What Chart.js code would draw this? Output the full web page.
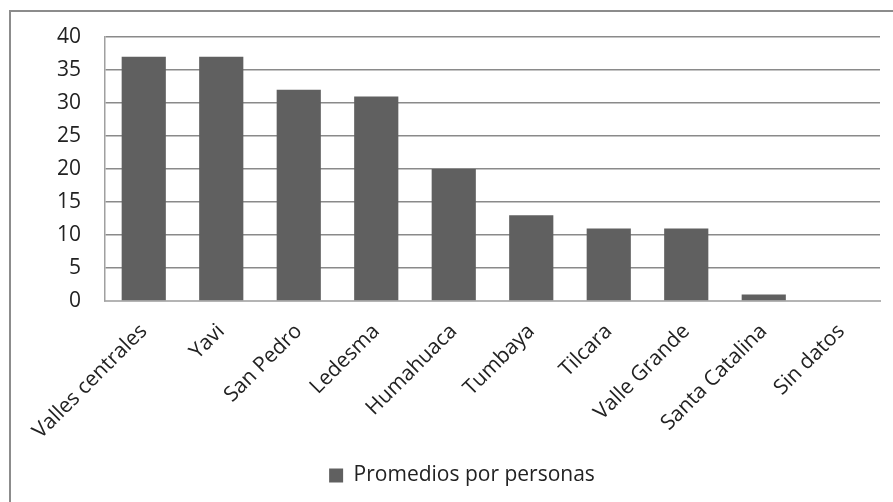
<!DOCTYPE html>
<html>
<head>
<meta charset="utf-8">
<script src="https://cdn.jsdelivr.net/npm/chart.js@4/dist/chart.umd.min.js"></script>
<style>
  html, body { margin: 0; padding: 0; background: #fff; }
  #wrap { position: relative; width: 893px; height: 502px; overflow: hidden; }
  #frame { position: absolute; left: 9px; top: 10px; width: 900px; height: 520px; border: 2px solid #8c8c8c; box-sizing: border-box; }
  canvas { position: absolute; left: 0; top: 0; }
</style>
</head>
<body>
<div id="wrap">
  <div id="frame"></div>
  <canvas id="c" width="893" height="502"></canvas>
</div>
<script>
const categories = ["Valles centrales", "Yavi", "San Pedro", "Ledesma", "Humahuaca", "Tumbaya", "Tilcara", "Valle Grande", "Santa Catalina", "Sin datos"];
const seriesName = "Promedios por personas";
const values = [37, 37, 32, 31, 20, 13, 11, 11, 1, 0];
const yTicks = [0, 5, 10, 15, 20, 25, 30, 35, 40];

const FONT = "'Open Sans', sans-serif";

new Chart(document.getElementById('c'), {
  type: 'bar',
  data: {
    labels: categories,
    datasets: [{
      label: seriesName,
      data: values,
      backgroundColor: '#606060',
      borderWidth: 0,
      barPercentage: 0.57,
      categoryPercentage: 1.0
    }]
  },
  options: {
    responsive: false,
    animation: false,
    devicePixelRatio: 1,
    layout: { padding: { left: 44, right: 13, top: 37, bottom: 6 } },
    plugins: {
      tooltip: { enabled: false },
      legend: {
        position: 'bottom',
        labels: {
          font: { family: FONT, size: 21 },
          color: '#222',
          boxWidth: 14,
          boxHeight: 14,
          padding: 5
        }
      }
    },
    scales: {
      x: {
        grid: { display: false, drawTicks: false },
        border: { display: true, color: '#b4b4b4', width: 2 },
        ticks: {
          font: { family: FONT, size: 21 },
          color: '#222',
          minRotation: 45,
          maxRotation: 45,
          padding: 18,
          autoSkip: false
        },
        afterFit: (s) => { s.height = 159; }
      },
      y: {
        min: 0,
        max: 40,
        afterBuildTicks: (s) => { s.ticks = yTicks.map(v => ({ value: v })); },
        grid: { color: '#8a8a8a', lineWidth: 1.5, drawTicks: false },
        border: { display: true, color: '#a0a0a0', width: 1.5 },
        ticks: {
          font: { family: FONT, size: 21 },
          color: '#222',
          padding: 24
        },
        afterFit: (s) => { s.width = 61; }
      }
    }
  }
});
</script>
</body>
</html>
